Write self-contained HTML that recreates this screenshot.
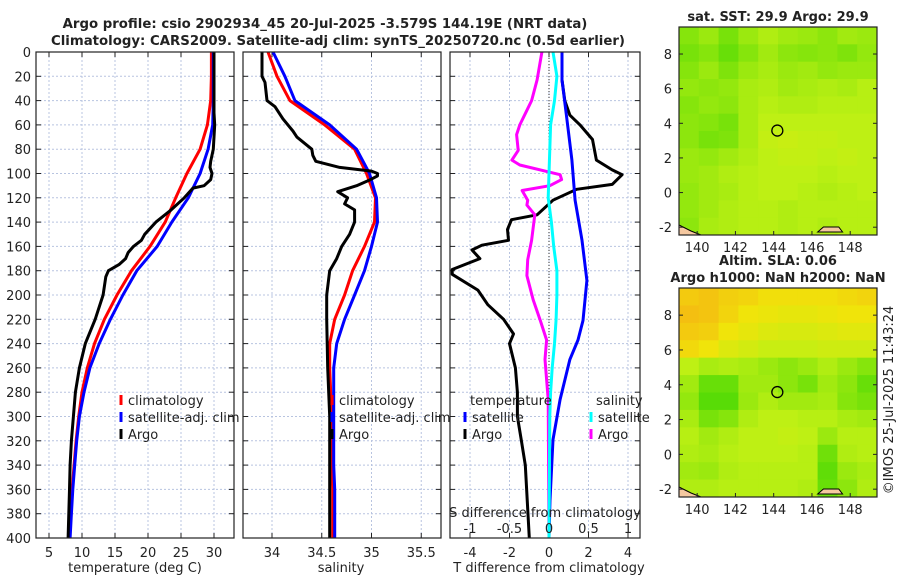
<!DOCTYPE html>
<html><head><meta charset="utf-8"><style>
body{margin:0;background:#fff}
svg{display:block;font-family:"DejaVu Sans","Liberation Sans",sans-serif}
</style></head><body>
<svg id="c" width="900" height="580" xmlns="http://www.w3.org/2000/svg"></svg>
<script>
// ---------- data ----------
const depthGrid = [0,20,40,60,80,100,120,140,160,180,200,220,240,260,280,300,320,340,360,380,400];
const tempClim = [29.6,29.6,29.5,29.0,27.9,25.9,24.2,22.6,20.3,17.5,15.3,13.4,11.9,10.8,10.0,9.5,9.1,8.8,8.5,8.3,8.1];
const tempSat = [29.9,29.9,29.9,29.8,29.1,27.9,26.1,23.6,21.4,18.3,16.2,14.3,12.6,11.2,10.3,9.6,9.2,8.9,8.6,8.4,8.2];
const argoTDepth = [0,50,60,80,90,95,100,105,110,112,120,130,140,150,155,160,165,170,175,180,185,200,220,240,260,280,300,320,340,360,400];
const argoTemp = [30,30,30.1,29.9,29.5,29.4,29.7,29.5,28.5,26.8,25.5,23.5,21.2,19.5,19,17.8,17.0,16.6,15.6,14.0,13.6,13.2,12.0,10.5,9.6,9.0,8.7,8.4,8.2,8.1,7.9];
const salClim = [33.96,34.05,34.18,34.53,34.83,34.95,35.04,35.03,34.93,34.81,34.73,34.63,34.58,34.58,34.59,34.6,34.6,34.6,34.61,34.61,34.61];
const salSat = [34.01,34.13,34.23,34.58,34.85,34.98,35.05,35.06,35.0,34.93,34.83,34.73,34.65,34.62,34.62,34.62,34.62,34.62,34.63,34.63,34.63];
const argoSDepth = [0,20,25,40,45,55,65,70,80,85,90,95,98,100,102,105,110,115,120,125,130,140,150,160,170,180,200,220,260,300,400];
const argoSal = [33.9,33.9,33.93,33.95,34.03,34.11,34.21,34.25,34.4,34.41,34.44,34.68,35.0,35.06,35.06,34.99,34.85,34.66,34.76,34.73,34.83,34.83,34.78,34.7,34.65,34.58,34.55,34.55,34.56,34.58,34.58];
const satTDiffDepth = [0,23,56,89,122,155,188,221,237,253,286,319,369,400];
const satTDiff = [0.66,0.66,0.91,1.16,1.32,1.67,1.92,1.72,1.47,1.06,0.56,0.2,0.05,0.0];
const argoTDiffDepth = [0,23,40,52,60,72,89,97,101,109,113,122,134,138,146,155,159,163,170,179,183,196,208,220,232,240,260,280,300,320,340,400];
const argoTDiff = [0.66,0.66,0.8,1.06,1.57,2.2,2.4,3.2,3.7,3.2,1.4,0.2,-0.6,-1.9,-2.1,-2.05,-3.4,-3.9,-3.5,-4.9,-4.9,-3.6,-3.1,-2.3,-1.8,-2.0,-1.7,-1.6,-1.6,-1.4,-1.2,-1.0];
const satSDiffDepth = [0,20,40,60,80,100,120,140,160,180,200,220,240,260,280,300,400];
const satSDiff = [0.05,0.1,0.07,0.02,0.01,0.0,-0.01,0.03,0.06,0.1,0.1,0.09,0.07,0.04,0.02,0.01,0.0];
const argoSDiffDepth = [0,23,40,48,60,68,81,89,93,101,105,110,114,122,126,134,155,171,184,204,221,237,253,286,400];
const argoSDiff = [-0.09,-0.15,-0.22,-0.28,-0.37,-0.41,-0.39,-0.47,-0.37,0.14,0.16,0.01,-0.34,-0.27,-0.28,-0.18,-0.22,-0.27,-0.28,-0.2,-0.11,-0.03,-0.05,-0.01,0.0];
const depthTicks = [0,20,40,60,80,100,120,140,160,180,200,220,240,260,280,300,320,340,360,380,400];
const tempTicks = [5,10,15,20,25,30];
const salTicks = [34,34.5,35,35.5];
const tdiffTicks = [-4,-2,0,2,4];
const sdiffTicks = [-1,-0.5,0,0.5,1];
const sstGrid = [
[1.2,1.5,1.0,1.5,1.8,1.6,1.5,1.3,1.6,1.5],
[1.0,1.2,0.8,1.2,1.6,1.3,1.2,1.3,1.1,1.4],
[1.2,1.5,1.1,1.5,1.7,1.5,1.6,1.4,1.5,1.5],
[1.4,1.3,1.4,1.7,1.8,1.6,1.7,1.8,1.7,1.9],
[1.2,1.4,1.3,1.7,1.9,1.8,1.8,1.9,1.9,1.9],
[1.3,1.2,1.0,1.7,2.0,2.0,2.0,2.0,2.0,2.0],
[1.3,1.0,1.1,1.7,2.1,2.2,2.1,2.1,2.0,2.0],
[1.5,1.4,1.6,1.8,2.0,2.1,2.1,2.0,2.1,2.0],
[1.5,1.6,1.8,1.9,2.0,2.0,2.0,1.9,2.0,2.0],
[1.4,1.6,1.7,1.9,2.0,2.0,1.9,1.8,1.9,2.0],
[1.4,1.6,1.8,1.9,1.9,1.8,1.9,1.9,1.9,1.9],
[1.3,1.7,1.8,1.9,1.9,1.8,1.9,1.8,1.9,1.9]];
const slaGrid = [
[3.5,3.6,3.4,3.3,3.1,3.1,3.1,3.1,3.2,3.3],
[3.7,3.6,3.3,3.0,2.9,2.8,2.8,2.9,3.0,3.0],
[3.5,3.4,3.0,2.8,2.6,2.5,2.5,2.6,2.7,2.7],
[3.2,3.0,2.6,2.4,2.2,2.2,2.2,2.3,2.3,2.3],
[2.0,1.7,1.8,1.7,1.5,1.3,1.5,1.8,1.5,1.2],
[1.6,0.8,0.8,1.6,1.6,1.3,1.0,1.6,1.3,0.8],
[1.4,0.6,0.6,1.5,1.8,1.6,1.6,1.7,1.2,1.0],
[1.7,1.0,1.2,1.8,2.0,2.0,1.9,1.9,1.7,1.6],
[1.9,1.6,1.8,2.0,2.0,2.1,2.0,1.5,1.9,1.9],
[1.8,1.7,1.9,2.0,2.0,2.0,1.9,0.9,1.8,1.9],
[1.6,1.5,1.8,1.9,1.9,1.9,1.9,0.7,1.5,1.7],
[1.8,1.8,1.9,1.9,1.9,1.9,1.8,0.8,1.3,1.8]];
const lonTicks = [140,142,144,146,148];
const latTicks = [-2,0,2,4,6,8];
const floatLon = 144.19, floatLat = 3.58;

// ---------- helpers ----------
const svg = document.getElementById('c');
const NS = 'http://www.w3.org/2000/svg';
function mk(tag, attrs, parent){const e=document.createElementNS(NS,tag);for(const k in attrs)e.setAttribute(k,attrs[k]);(parent||svg).appendChild(e);return e;}
function txt(s,x,y,attrs,parent){const e=mk('text',Object.assign({x:x,y:y,'font-size':13,fill:'#222'},attrs),parent);e.textContent=s;return e;}
const Y0=52, Y1=538;
const yD = d => Y0 + d*(Y1-Y0)/400;
const xT = t => 49 + (t-5)*6.6;
const xS = s => 272 + (s-34)*99.5;
const xTD = v => 549 + v*19.75;
const xSD = v => 549 + v*79;

function panel(name,x0,x1,vticks,xf,labels){
  const g=mk('g',{});
  
  
  mk('rect',{x:x0,y:Y0,width:x1-x0,height:Y1-Y0,fill:'#fff'},g);
  depthTicks.forEach(d=>{mk('line',{x1:x0,x2:x1,y1:yD(d),y2:yD(d),stroke:'#b8c4e0','stroke-dasharray':'2,2','stroke-width':1},g);});
  vticks.forEach(v=>{mk('line',{x1:xf(v),x2:xf(v),y1:Y0,y2:Y1,stroke:'#b8c4e0','stroke-dasharray':'2,2','stroke-width':1},g);});
  depthTicks.forEach(d=>{mk('line',{x1:x0,x2:x0+5,y1:yD(d),y2:yD(d),stroke:'#222'},g);mk('line',{x1:x1-5,x2:x1,y1:yD(d),y2:yD(d),stroke:'#222'},g);});
  vticks.forEach(v=>{mk('line',{x1:xf(v),x2:xf(v),y1:Y1,y2:Y1-5,stroke:'#222'},g);mk('line',{x1:xf(v),x2:xf(v),y1:Y0,y2:Y0+5,stroke:'#222'},g);
    if(labels){const t=txt(String(v),xf(v),Y1+19,{'text-anchor':'middle'},g);}});
  return g;
}
function frame(g,x0,x1){mk('rect',{x:x0,y:Y0,width:x1-x0,height:Y1-Y0,fill:'none',stroke:'#222','stroke-width':1.2},g);}
function line(g,xs,ds,xf,color,name){
  const p=ds.map((d,i)=>(i?'L':'M')+xf(xs[i]).toFixed(1)+','+yD(d).toFixed(1)).join('');
  const e=mk('path',{d:p,fill:'none',stroke:color,'stroke-width':3,'stroke-linejoin':'round'},g);
  
  
}
function legendEntry(g,x,y,color,label){
  const m=mk('line',{x1:x,x2:x,y1:y-10,y2:y,stroke:color,'stroke-width':3},g);
  const t=txt(label,x+7,y,{},g);
  
  
}

// titles
const t1=txt('Argo profile: csio 2902934_45 20-Jul-2025 -3.579S 144.19E (NRT data)',325,28,{'text-anchor':'middle','font-weight':'bold','font-size':13.3});


const t2=txt('Climatology: CARS2009. Satellite-adj clim: synTS_20250720.nc (0.5d earlier)',338,45,{'text-anchor':'middle','font-weight':'bold','font-size':13.3});



// depth labels
depthTicks.forEach(d=>{const t=txt(String(d),31,yD(d)+5,{'text-anchor':'end'});});

// panel 1 temperature
const p1=panel('temperature-panel',36,234,tempTicks,xT,true);
line(p1,tempClim,depthGrid,xT,'#f00','temp-climatology-line');
line(p1,tempSat,depthGrid,xT,'#00f','temp-satellite-line');
line(p1,argoTemp,argoTDepth,xT,'#000','temp-argo-line');
legendEntry(p1,121,405,'#f00','climatology');
legendEntry(p1,121,422,'#00f','satellite-adj. clim');
legendEntry(p1,121,439,'#000','Argo');
frame(p1,36,234);
const xl1=txt('temperature (deg C)',135,572,{'text-anchor':'middle'});



// panel 2 salinity
const p2=panel('salinity-panel',243,441,salTicks,xS,true);
line(p2,salClim,depthGrid,xS,'#f00','sal-climatology-line');
line(p2,salSat,depthGrid,xS,'#00f','sal-satellite-line');
line(p2,argoSal,argoSDepth,xS,'#000','sal-argo-line');
legendEntry(p2,332,405,'#f00','climatology');
legendEntry(p2,332,422,'#00f','satellite-adj. clim');
legendEntry(p2,332,439,'#000','Argo');
frame(p2,243,441);
const xl2=txt('salinity',341,572,{'text-anchor':'middle'});



// panel 3 differences
const p3=panel('difference-panel',450,640,tdiffTicks,xTD,true);
mk('line',{x1:549,x2:549,y1:Y0,y2:Y1,stroke:'#333','stroke-dasharray':'1,2','stroke-width':1},p3);
line(p3,argoTDiff,argoTDiffDepth,xTD,'#000','tdiff-argo-line');
line(p3,satTDiff,satTDiffDepth,xTD,'#00f','tdiff-satellite-line');
line(p3,argoSDiff,argoSDiffDepth,xSD,'#f0f','sdiff-argo-line');
line(p3,satSDiff,satSDiffDepth,xSD,'#0ff','sdiff-satellite-line');
sdiffTicks.forEach(v=>{const t=txt(String(v),xSD(v),533,{'text-anchor':'middle'},p3);});
const sdt=txt('S difference from climatology',545,517,{'text-anchor':'middle'},p3);


const lt=txt('temperature',470,405,{},p3);


const ls=txt('salinity',596,405,{},p3);


legendEntry(p3,465,422,'#00f','satellite');
legendEntry(p3,465,439,'#000','Argo');
legendEntry(p3,591,422,'#0ff','satellite');
legendEntry(p3,591,439,'#f0f','Argo');
frame(p3,450,640);
const xl3=txt('T difference from climatology',549,572,{'text-anchor':'middle'});



// maps
const stops=[[40,210,0],[120,226,10],[190,240,20],[240,228,10],[245,175,20]];
function col(v){v=Math.max(0,Math.min(4,v));const i=Math.min(3,Math.floor(v)),f=v-i;const a=stops[i],b=stops[i+1];return 'rgb('+a.map((c,k)=>Math.round(c+(b[k]-c)*f)).join(',')+')';}
function map(name,grid,top,bot,title1,title2){
  const L=679,R=877,lon0=139.05,lon1=149.4,lat0=-2.45,lat1=9.56;
  const xL=lo=>L+(lo-lon0)*(R-L)/(lon1-lon0);
  const yL=la=>bot-(la-lat0)*(bot-top)/(lat1-lat0);
  const g=mk('g',{});
  
  
  const rows=grid.length,cols=grid[0].length;
  const cw=(R-L)/cols,ch=(bot-top)/rows;
  grid.forEach((r,i)=>r.forEach((v,j)=>{const c=mk('rect',{x:L+j*cw,y:top+i*ch,width:cw+0.5,height:ch+0.5,fill:col(v)},g);
    
    }));
  mk('path',{d:`M${L},${bot-10} L${L+12},${bot-4} L${L+22},${bot} L${L},${bot} Z`,fill:'#f5c8a0',stroke:'#000','stroke-width':1},g);
  mk('path',{d:`M${xL(146.3)},${bot-3} L${xL(146.6)},${bot-8} L${xL(147.4)},${bot-8} L${xL(147.6)},${bot-3} Z`,fill:'#f5c8a0',stroke:'#000','stroke-width':1},g);
  const c=mk('circle',{cx:xL(floatLon),cy:yL(floatLat),r:5.5,fill:'none',stroke:'#000','stroke-width':1.3},g);
  
  
  mk('rect',{x:L,y:top,width:R-L,height:bot-top,fill:'none',stroke:'#222','stroke-width':1.2},g);
  lonTicks.forEach(v=>{mk('line',{x1:xL(v),x2:xL(v),y1:bot,y2:bot-4,stroke:'#222'},g);const t=txt(String(v),xL(v),bot+17,{'text-anchor':'middle'},g);});
  latTicks.forEach(v=>{mk('line',{x1:L,x2:L+4,y1:yL(v),y2:yL(v),stroke:'#222'},g);mk('line',{x1:R-4,x2:R,y1:yL(v),y2:yL(v),stroke:'#222'},g);const t=txt(String(v),672,yL(v)+5,{'text-anchor':'end'},g);});
  if(title1){const t=txt(title1,778,top-6-(title2?17:0),{'text-anchor':'middle','font-weight':'bold'},g);}
  if(title2){const t=txt(title2,778,top-6,{'text-anchor':'middle','font-weight':'bold'},g);}
}
map('sst-map',sstGrid,27,235,'sat. SST: 29.9 Argo: 29.9',null);
map('sla-map',slaGrid,288,497,'Altim. SLA: 0.06','Argo h1000: NaN h2000: NaN');
const cp=txt('©IMOS 25-Jul-2025 11:43:24',0,0,{'text-anchor':'middle',transform:'translate(893,400) rotate(-90)'});


</script>
</body></html>
